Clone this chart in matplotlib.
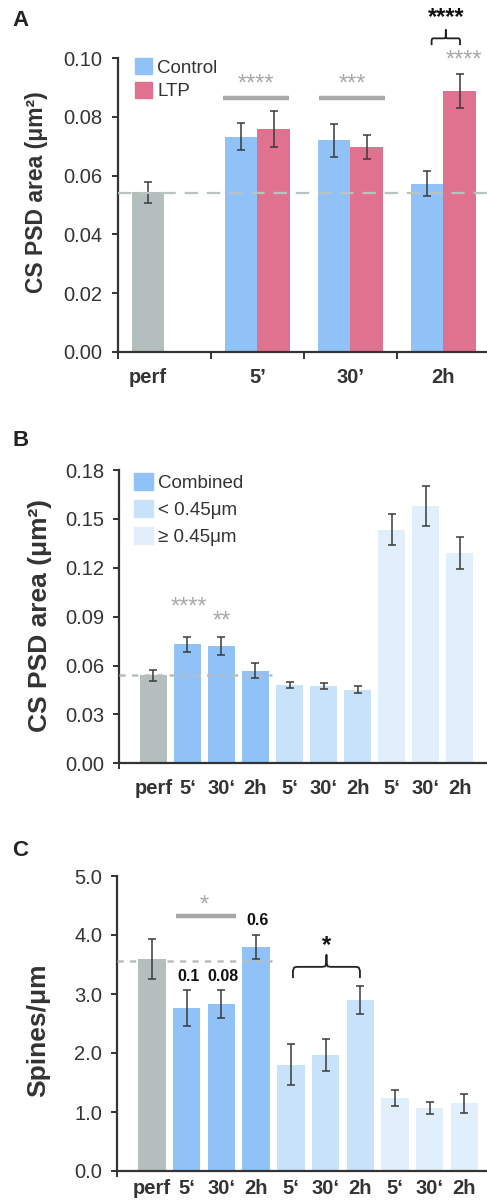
import numpy as np
import matplotlib
matplotlib.use("Agg")
import matplotlib.pyplot as plt
from matplotlib.patches import Patch

plt.rcParams['font.family'] = ['Liberation Sans', 'DejaVu Sans']

# ---- panel A data ----
a_groups = ["perf", "5\u2019", "30\u2019", "2h"]
a_perf = 0.0543
a_perf_err = 0.0035
a_control = [0.0733, 0.0720, 0.0572]
a_control_err = [0.0045, 0.0055, 0.0043]
a_ltp = [0.0759, 0.0698, 0.0888]
a_ltp_err = [0.0060, 0.0040, 0.0057]

# ---- panel B data ----
b_labels = ["perf", "5\u2018", "30\u2018", "2h", "5\u2018", "30\u2018", "2h", "5\u2018", "30\u2018", "2h"]
b_values = [0.0540, 0.0730, 0.0718, 0.0568, 0.0480, 0.0474, 0.0452, 0.1433, 0.1579, 0.1290]
b_err = [0.0035, 0.0045, 0.0055, 0.0045, 0.0020, 0.0020, 0.0020, 0.0096, 0.0120, 0.0098]

# ---- panel C data ----
c_labels = b_labels
c_values = [3.59, 2.76, 2.83, 3.80, 1.80, 1.97, 2.90, 1.24, 1.07, 1.15]
c_err = [0.34, 0.31, 0.23, 0.20, 0.35, 0.27, 0.24, 0.14, 0.10, 0.16]

GREY = "#b4bfbd"
BLUE = "#90c2f8"
PINK = "#e07290"
LIGHT = "#c8e3f9"
LIGHTER = "#e1effc"
DARK = "#333333"
SIG = "#a8a8a8"
b_colors = [GREY, BLUE, BLUE, BLUE, LIGHT, LIGHT, LIGHT, LIGHTER, LIGHTER, LIGHTER]

fig = plt.figure(figsize=(4.87, 12.03), dpi=100)
W, H = 487.0, 1203.0


def make_axes(left, top, right, bottom):
    return fig.add_axes([left / W, 1 - bottom / H, (right - left) / W, (bottom - top) / H])


def style(ax):
    for s in ["top", "right"]:
        ax.spines[s].set_visible(False)
    for s in ["left", "bottom"]:
        ax.spines[s].set_linewidth(1.6)
        ax.spines[s].set_color(DARK)
    ax.tick_params(axis="y", direction="out", length=4, width=1.4, colors=DARK,
                   labelsize=14.5, pad=7, labelcolor="#333333")
    ax.tick_params(axis="x", labelsize=14.5, colors=DARK)
    for t in ax.get_xticklabels():
        t.set_fontweight("bold")


def brace(ax, x0, x1, y_end, y_h, y_cusp):
    xm = (x0 + x1) / 2
    r = (x1 - x0) * 0.06
    dy = (y_h - y_end) * 0.35
    xs = [x0, x0, x0 + r * 0.3, x0 + r, xm - r, xm - r * 0.3, xm, xm, xm,
          xm + r * 0.3, xm + r, x1 - r, x1 - r * 0.3, x1, x1]
    ys = [y_end, y_h - dy, y_h - dy * 0.15, y_h, y_h, y_h + dy * 0.15, y_h + dy, y_cusp,
          y_h + dy, y_h + dy * 0.15, y_h, y_h, y_h - dy * 0.15, y_h - dy, y_end]
    ax.plot(xs, ys, color="#222222", lw=1.3, clip_on=False, solid_capstyle="butt")


ekw = dict(ecolor="#3a3a3a", elinewidth=1.1, capsize=3, capthick=1.1)

# ================= Panel A =================
axA = make_axes(118, 58.3, 487, 351.7)
off = 0.175
bw = 0.35
idx = np.arange(1, 4)
axA.bar([-off], [a_perf], bw, yerr=[a_perf_err], color=GREY, error_kw=ekw, zorder=2)
axA.bar(idx - off, a_control, bw, yerr=a_control_err, color=BLUE, error_kw=ekw, zorder=2)
axA.bar(idx + off, a_ltp, bw, yerr=a_ltp_err, color=PINK, error_kw=ekw, zorder=2)
axA.axhline(0.0542, color="#b8c4c0", lw=1.6, ls=(0, (6, 4)), zorder=3)
axA.set_xlim(-0.5, 3.47)
axA.set_ylim(0, 0.10)
axA.set_yticks(np.arange(0, 0.101, 0.02))
axA.set_yticklabels([f"{v:.2f}" for v in np.arange(0, 0.101, 0.02)])
axA.set_xticks([-off, 1, 2, 3])
axA.set_xticklabels(a_groups)
axA.set_xticks([-0.5, 0.5, 1.5, 2.5], minor=True)
style(axA)
axA.tick_params(axis="x", which="major", length=0, pad=12)
axA.tick_params(axis="x", which="minor", length=5, width=1.4, colors=DARK)

# significance bars
for x0, x1, s in [(0.634, 1.344, "****"), (1.663, 2.373, "***")]:
    axA.plot([x0, x1], [0.0864, 0.0864], color=SIG, lw=3.2, solid_capstyle="butt")
    axA.text((x0 + x1) / 2, 0.0912, s, color=SIG, fontsize=17, ha="center", va="center")
axA.text(3.22, 0.0992, "****", color=SIG, fontsize=17, ha="center", va="center", clip_on=False)
brace(axA, 2.874, 3.18, 0.1045, 0.1068, 0.1096)
axA.text(3.03, 0.1140, "****", color="#111111", fontsize=17, fontweight="bold",
         ha="center", va="center", clip_on=False)

legA = axA.legend(handles=[Patch(color=BLUE, label="Control"), Patch(color=PINK, label="LTP")],
                  loc="upper left", bbox_to_anchor=(0.046, 1.0), frameon=False,
                  fontsize=13.5, handlelength=0.9, handleheight=0.9, handletextpad=0.3,
                  labelspacing=0.3, borderpad=0, borderaxespad=0)
for t in legA.get_texts():
    t.set_color("#333333")

fig.text(37 / W, 1 - 192.5 / H, "CS PSD area (\u03bcm\u00b2)", rotation=90, ha="center",
         va="center", fontsize=16.5, fontweight="bold", color="#333333")
fig.text(12 / W, 1 - 20 / H, "A", fontsize=16, fontweight="bold", ha="left", va="center", color="#222222")

# ================= Panel B =================
axB = make_axes(119.3, 470, 487, 763.3)
xb = np.arange(len(b_values))
axB.bar(xb, b_values, 0.78, yerr=b_err, color=b_colors, error_kw=ekw, zorder=2)
axB.plot([-1, 3.49], [0.054, 0.054], color="#b8bebe", lw=1.8, ls=(0, (2.5, 2.5)), zorder=3)
axB.set_xlim(-1, 9.8)
axB.set_ylim(0, 0.18)
yt = np.arange(0, 0.181, 0.03)
axB.set_yticks(yt)
axB.set_yticklabels([f"{v:.2f}" for v in yt])
axB.set_xticks(xb)
axB.set_xticklabels(b_labels)
axB.set_xticks([-1], minor=True)
style(axB)
axB.tick_params(axis="x", which="major", length=0, pad=11)
axB.tick_params(axis="x", which="minor", length=4, width=1.4, colors=DARK)
axB.text(1.05, 0.0955, "****", color=SIG, fontsize=17, ha="center", va="center")
axB.text(2.01, 0.0868, "**", color=SIG, fontsize=17, ha="center", va="center")
legB = axB.legend(handles=[Patch(color=BLUE, label="Combined"),
                           Patch(color=LIGHT, label="< 0.45\u03bcm"),
                           Patch(color=LIGHTER, label="\u2265 0.45\u03bcm")],
                  loc="upper left", bbox_to_anchor=(0.04, 0.99), frameon=False,
                  fontsize=13.5, handlelength=1.0, handleheight=1.0, handletextpad=0.3,
                  labelspacing=0.45, borderpad=0, borderaxespad=0)
for t in legB.get_texts():
    t.set_color("#333333")
fig.text(40 / W, 1 - 615 / H, "CS PSD area (\u03bcm\u00b2)", rotation=90, ha="center",
         va="center", fontsize=19, fontweight="bold", color="#333333")
fig.text(13 / W, 1 - 440 / H, "B", fontsize=16, fontweight="bold", ha="left", va="center", color="#222222")

# ================= Panel C =================
axC = make_axes(117.3, 876, 487, 1171)
xc = np.arange(len(c_values))
axC.bar(xc, c_values, 0.79, yerr=c_err, color=b_colors, error_kw=ekw, zorder=2)
axC.plot([-1, 3.45], [3.554, 3.554], color="#b8bebe", lw=1.8, ls=(0, (2.5, 2.5)), zorder=3)
axC.set_xlim(-1, 9.65)
axC.set_ylim(0, 5)
axC.set_yticks(np.arange(0, 5.01, 1.0))
axC.set_yticklabels([f"{v:.1f}" for v in np.arange(0, 5.01, 1.0)])
axC.set_xticks(xc)
axC.set_xticklabels(c_labels)
axC.set_xticks([-1], minor=True)
style(axC)
axC.tick_params(axis="x", which="major", length=0, pad=6)
axC.tick_params(axis="x", which="minor", length=4, width=1.4, colors=DARK)
axC.plot([0.68, 2.43], [4.33, 4.33], color=SIG, lw=3.2, solid_capstyle="butt")
axC.text(1.5, 4.50, "*", color=SIG, fontsize=17, ha="center", va="center")
axC.text(3.05, 4.25, "0.6", fontsize=11.5, fontweight="bold", ha="center", va="center", color="#111111")
axC.text(1.04, 3.30, "0.1", fontsize=11.5, fontweight="bold", ha="center", va="center", color="#111111")
axC.text(2.03, 3.30, "0.08", fontsize=11.5, fontweight="bold", ha="center", va="center", color="#111111")
brace(axC, 4.06, 5.99, 3.27, 3.46, 3.66)
axC.text(5.03, 3.83, "*", fontsize=17, fontweight="bold", ha="center", va="center", color="#111111")
fig.text(38 / W, 1 - 1030 / H, "Spines/\u03bcm", rotation=90, ha="center",
         va="center", fontsize=19, fontweight="bold", color="#333333")
fig.text(12 / W, 1 - 851 / H, "C", fontsize=16, fontweight="bold", ha="left", va="center", color="#222222")

fig.savefig("out.png", dpi=100)
